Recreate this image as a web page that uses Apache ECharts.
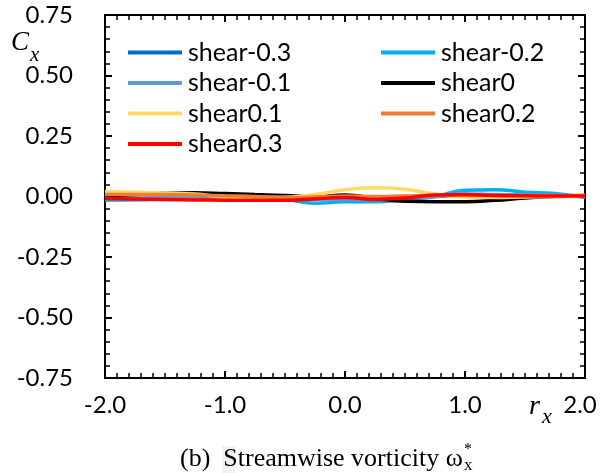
<!DOCTYPE html>
<html>
<head>
<meta charset="utf-8">
<script src="https://cdn.jsdelivr.net/npm/echarts@6/dist/echarts.min.js"></script>
<style>
  html, body { margin: 0; padding: 0; background: #fff; }
  #chart { width: 603px; height: 473px; }
</style>
</head>
<body>
<div id="chart"></div>
<script>
var rx = [-2, -1.75, -1.5, -1.25, -1, -0.75, -0.5, -0.25, 0, 0.25, 0.5, 0.75, 1, 1.25, 1.5, 1.75, 2];

// C_x for each shear case
var shearM03 = [-0.012, -0.012, -0.010, -0.008, -0.008, -0.010, -0.012, -0.010, -0.008, -0.006, -0.004, 0.000, 0.004, 0.006, 0.006, 0.004, 0.002];
var shearM02 = [-0.014, -0.013, -0.012, -0.011, -0.010, -0.008, -0.012, -0.028, -0.022, -0.022, -0.012, 0.000, 0.026, 0.028, 0.018, 0.012, -0.004];
var shearM01 = [-0.006, -0.006, -0.004, -0.004, -0.006, -0.008, -0.008, -0.006, -0.010, -0.012, -0.008, 0.000, 0.010, 0.008, 0.006, 0.004, 0.002];
var shear0   = [0.003, 0.008, 0.013, 0.015, 0.012, 0.008, 0.004, -0.002, 0.006, -0.008, -0.020, -0.022, -0.022, -0.016, -0.006, 0.000, 0.002];
var shear01  = [0.020, 0.018, 0.014, 0.010, -0.002, -0.004, -0.003, 0.008, 0.028, 0.036, 0.030, 0.010, -0.002, -0.004, -0.002, 0.000, 0.002];
var shear02  = [0.008, 0.008, 0.008, 0.006, 0.003, 0.000, -0.004, -0.002, 0.002, 0.000, 0.002, 0.004, 0.004, 0.004, 0.004, 0.004, 0.005];
var shear03  = [-0.008, -0.010, -0.012, -0.014, -0.015, -0.016, -0.015, -0.010, -0.004, -0.012, -0.006, 0.006, 0.008, 0.004, 0.003, 0.002, 0.002];

var names  = ['shear-0.3', 'shear-0.2', 'shear-0.1', 'shear0', 'shear0.1', 'shear0.2', 'shear0.3'];
var values = [shearM03, shearM02, shearM01, shear0, shear01, shear02, shear03];
var colors = ['#0070C0', '#00B0F0', '#5B9BD5', '#000000', '#FFD966', '#ED7D31', '#FF0000'];

var font = 'Lato';

function pairs(vals) {
  return rx.map(function (x, i) { return [x, vals[i]]; });
}

var series = names.map(function (n, i) {
  return {
    name: n,
    type: 'line',
    smooth: true,
    symbol: 'none',
    color: colors[i],
    lineStyle: { width: 3.5, color: colors[i] },
    data: pairs(values[i])
  };
});

function axisCommon(extra) {
  var a = {
    type: 'value',
    axisLine: { onZero: false, lineStyle: { color: '#000', width: 2 } },
    axisTick: { inside: true, length: 7, lineStyle: { color: '#000', width: 2 } },
    splitLine: { show: false }
  };
  for (var k in extra) a[k] = extra[k];
  return a;
}

var legendText = { fontFamily: font, fontSize: 25, color: '#000', lineHeight: 24, padding: [0, 0, 0, 1] };

var myChart = echarts.init(document.getElementById('chart'));
myChart.setOption({
  backgroundColor: '#fff',
  animation: false,
  grid: { left: 105, right: 18, top: 15, bottom: 95 },
  xAxis: [
    axisCommon({
      min: -2, max: 2, interval: 1,
      minorTick: { show: true, splitNumber: 10, length: 5, lineStyle: { color: '#000', width: 1.5 } },
      axisLabel: {
        margin: 15, fontFamily: font, fontSize: 24, color: '#000',
        formatter: function (v) { return v === 2 ? '{last|2.0}' : v.toFixed(1); },
        rich: { last: { fontFamily: font, fontSize: 24, color: '#000', padding: [0, 10, 0, 0] } }
      }
    }),
    axisCommon({
      min: -2, max: 2, interval: 1, position: 'top',
      minorTick: { show: true, splitNumber: 10, length: 5, lineStyle: { color: '#000', width: 1.5 } },
      axisLabel: { show: false }
    })
  ],
  yAxis: [
    axisCommon({
      min: -0.75, max: 0.75, interval: 0.25,
      minorTick: { show: true, splitNumber: 5, length: 5, lineStyle: { color: '#000', width: 1.5 } },
      axisLabel: {
        margin: 32, fontFamily: font, fontSize: 24, color: '#000',
        formatter: function (v) { return v.toFixed(2); }
      }
    }),
    axisCommon({
      min: -0.75, max: 0.75, interval: 0.25, position: 'right',
      minorTick: { show: true, splitNumber: 5, length: 5, lineStyle: { color: '#000', width: 1.5 } },
      axisLabel: { show: false }
    })
  ],
  legend: [
    {
      orient: 'vertical', left: 123, top: 35, itemWidth: 54, itemHeight: 4, itemGap: 5.5,
      icon: 'rect', textStyle: legendText,
      data: ['shear-0.3', 'shear-0.1', 'shear0.1', 'shear0.3']
    },
    {
      orient: 'vertical', left: 376, top: 35, itemWidth: 54, itemHeight: 4, itemGap: 5.5,
      icon: 'rect', textStyle: legendText,
      data: ['shear-0.2', 'shear0', 'shear0.2']
    }
  ],
  graphic: [
    { type: 'text', left: 11, top: 29, style: { text: 'C', font: 'italic 27px "Liberation Serif"', fill: '#000' } },
    { type: 'text', left: 30, top: 45, style: { text: 'x', font: 'italic 21px "Liberation Serif"', fill: '#000' } },
    { type: 'text', left: 529, top: 393, style: { text: 'r', font: 'italic 28px "Liberation Serif"', fill: '#000' } },
    { type: 'text', left: 542, top: 406, style: { text: 'x', font: 'italic 22px "Liberation Serif"', fill: '#000' } },
    { type: 'rect', shape: { x: 222, y: 446, width: 13, height: 27 }, style: { fill: '#f2f2f2' }, z: 0 },
    { type: 'text', z: 10, style: { x: 180, y: 459, text: '(b)  Streamwise vorticity ω', textAlign: 'left', textVerticalAlign: 'middle', font: '26px "Liberation Serif"', fill: '#000' } },
    { type: 'text', z: 10, style: { x: 464, y: 450, text: '*', textVerticalAlign: 'middle', font: '16px "Liberation Serif"', fill: '#000' } },
    { type: 'text', z: 10, style: { x: 464, y: 466, text: 'x', textVerticalAlign: 'middle', font: '17px "Liberation Serif"', fill: '#000' } }
  ],
  series: series
});
</script>
</body>
</html>
